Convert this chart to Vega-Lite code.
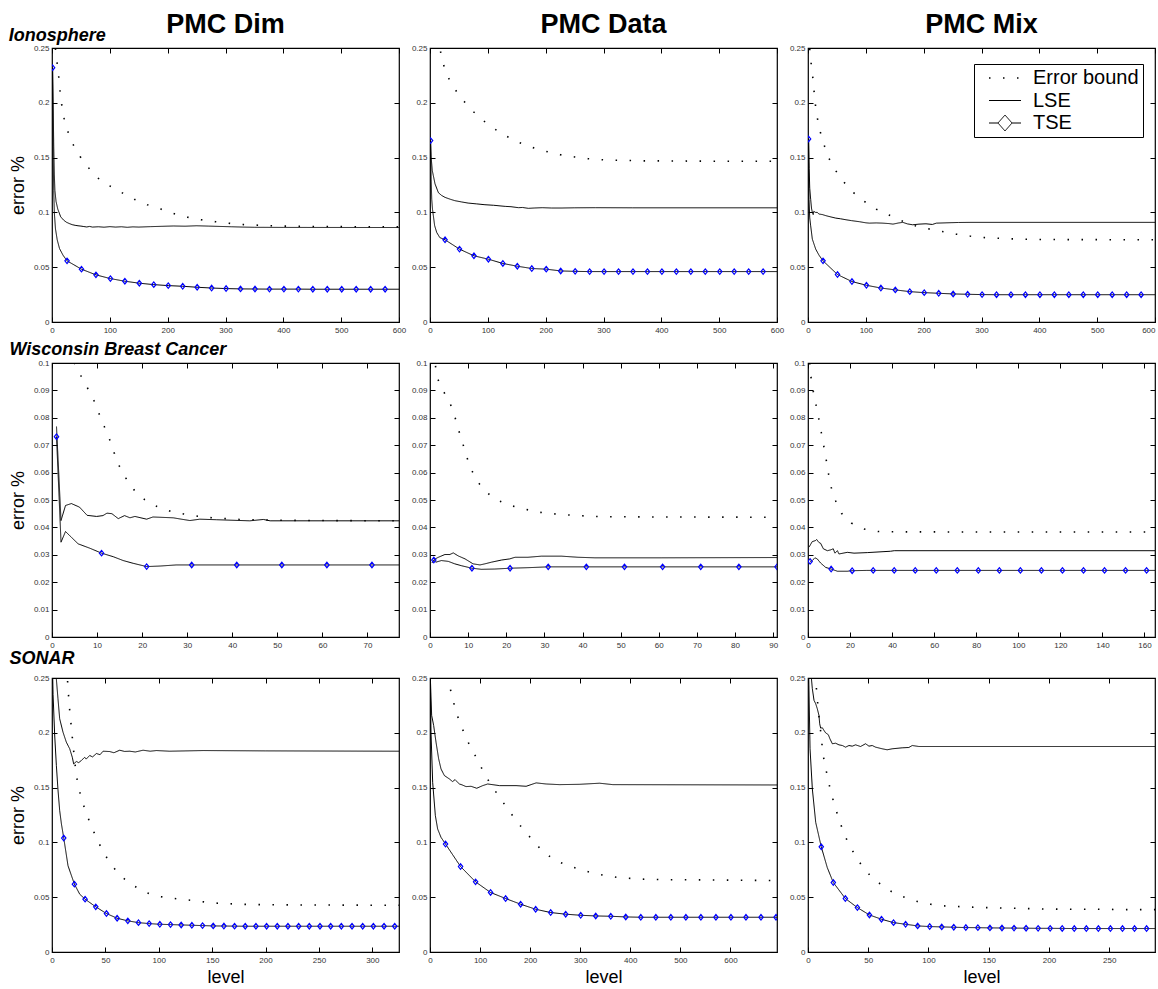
{
"$schema": "https://vega.github.io/schema/vega-lite/v6.json",
"background": "white",
"padding": {"left": 8, "top": 10, "right": 2, "bottom": 2},
"title": {"text": "Ionosphere", "anchor": "start", "frame": "bounds", "fontSize": 18, "fontStyle": "italic", "fontWeight": "bold", "offset": -35},
"columns": 3,
"spacing": {"row": 41, "column": 31},
"bounds": "flush",
"resolve": {"scale": {"strokeDash": "independent"}, "legend": {"strokeDash": "independent"}},
"datasets": {
"p11": [
{"s":"EB","x":1,"y":0.275},{"s":"EB","x":4,"y":0.258},{"s":"EB","x":8.7,"y":0.237},{"s":"EB","x":11.6,"y":0.224},{"s":"EB","x":13.9,"y":0.211},{"s":"EB","x":16.8,"y":0.198},{"s":"EB","x":20.8,"y":0.186},{"s":"EB","x":27.2,"y":0.174},{"s":"EB","x":36.4,"y":0.162},{"s":"EB","x":48.6,"y":0.151},{"s":"EB","x":63.6,"y":0.1405},{"s":"EB","x":80.3,"y":0.131},{"s":"EB","x":100.6,"y":0.124},{"s":"EB","x":120.8,"y":0.118},{"s":"EB","x":142.2,"y":0.112},{"s":"EB","x":164.7,"y":0.107},{"s":"EB","x":188.4,"y":0.103},{"s":"EB","x":211.6,"y":0.0988},{"s":"EB","x":234.1,"y":0.0957},{"s":"EB","x":257.8,"y":0.0933},{"s":"EB","x":282.7,"y":0.0915},{"s":"EB","x":304.6,"y":0.0902},{"s":"EB","x":327.2,"y":0.089},{"s":"EB","x":352.6,"y":0.0884},{"s":"EB","x":376.9,"y":0.0878},{"s":"EB","x":401.7,"y":0.0875},{"s":"EB","x":450,"y":0.0872},{"s":"EB","x":500,"y":0.087},{"s":"EB","x":600,"y":0.0868},
{"s":"LSE","x":1,"y":0.232},{"s":"LSE","x":2,"y":0.2},{"s":"LSE","x":3,"y":0.16},{"s":"LSE","x":4,"y":0.135},{"s":"LSE","x":5,"y":0.12},{"s":"LSE","x":7,"y":0.11},{"s":"LSE","x":10,"y":0.103},{"s":"LSE","x":15,"y":0.096},{"s":"LSE","x":20,"y":0.093},{"s":"LSE","x":25,"y":0.091},{"s":"LSE","x":30,"y":0.0898},{"s":"LSE","x":35,"y":0.0888},{"s":"LSE","x":40,"y":0.0882},{"s":"LSE","x":45,"y":0.0878},{"s":"LSE","x":50,"y":0.0875},{"s":"LSE","x":55,"y":0.0871},{"s":"LSE","x":60,"y":0.0867},{"s":"LSE","x":65,"y":0.0872},{"s":"LSE","x":70,"y":0.0866},{"s":"LSE","x":80,"y":0.0869},{"s":"LSE","x":90,"y":0.0865},{"s":"LSE","x":100,"y":0.087},{"s":"LSE","x":110,"y":0.0866},{"s":"LSE","x":120,"y":0.0869},{"s":"LSE","x":130,"y":0.0864},{"s":"LSE","x":140,"y":0.0868},{"s":"LSE","x":150,"y":0.0866},{"s":"LSE","x":170,"y":0.087},{"s":"LSE","x":190,"y":0.0873},{"s":"LSE","x":210,"y":0.0876},{"s":"LSE","x":230,"y":0.0874},{"s":"LSE","x":250,"y":0.0878},{"s":"LSE","x":270,"y":0.0875},{"s":"LSE","x":290,"y":0.0872},{"s":"LSE","x":310,"y":0.0869},{"s":"LSE","x":330,"y":0.0866},{"s":"LSE","x":350,"y":0.0864},{"s":"LSE","x":400,"y":0.0863},{"s":"LSE","x":600,"y":0.0862},
{"s":"TSE","x":1,"y":0.232,"d":1},{"s":"TSE","x":2,"y":0.15},{"s":"TSE","x":3,"y":0.12},{"s":"TSE","x":4,"y":0.1},{"s":"TSE","x":6,"y":0.085},{"s":"TSE","x":9,"y":0.075},{"s":"TSE","x":13,"y":0.067},{"s":"TSE","x":19,"y":0.061},{"s":"TSE","x":26,"y":0.0558,"d":1},{"s":"TSE","x":51,"y":0.0482,"d":1},{"s":"TSE","x":76,"y":0.043,"d":1},{"s":"TSE","x":101,"y":0.0396,"d":1},{"s":"TSE","x":126,"y":0.0372,"d":1},{"s":"TSE","x":151,"y":0.0354,"d":1},{"s":"TSE","x":176,"y":0.0341,"d":1},{"s":"TSE","x":201,"y":0.0332,"d":1},{"s":"TSE","x":226,"y":0.0326,"d":1},{"s":"TSE","x":251,"y":0.0317,"d":1},{"s":"TSE","x":276,"y":0.031,"d":1},{"s":"TSE","x":301,"y":0.0305,"d":1},{"s":"TSE","x":326,"y":0.0302,"d":1},{"s":"TSE","x":351,"y":0.0301,"d":1},{"s":"TSE","x":376,"y":0.03,"d":1},{"s":"TSE","x":401,"y":0.03,"d":1},{"s":"TSE","x":426,"y":0.03,"d":1},{"s":"TSE","x":451,"y":0.0299,"d":1},{"s":"TSE","x":476,"y":0.0299,"d":1},{"s":"TSE","x":501,"y":0.0299,"d":1},{"s":"TSE","x":526,"y":0.0299,"d":1},{"s":"TSE","x":551,"y":0.0299,"d":1},{"s":"TSE","x":576,"y":0.0299,"d":1},{"s":"TSE","x":600,"y":0.0299}
],
"p12": [
{"s":"EB","x":1,"y":0.31},{"s":"EB","x":8,"y":0.275},{"s":"EB","x":17.3,"y":0.249},{"s":"EB","x":22,"y":0.237},{"s":"EB","x":29.5,"y":0.225},{"s":"EB","x":41,"y":0.214},{"s":"EB","x":55,"y":0.2037},{"s":"EB","x":71,"y":0.1939},{"s":"EB","x":89,"y":0.185},{"s":"EB","x":108,"y":0.1774},{"s":"EB","x":128,"y":0.1707},{"s":"EB","x":150,"y":0.1646},{"s":"EB","x":172,"y":0.16},{"s":"EB","x":195,"y":0.1564},{"s":"EB","x":225,"y":0.1527},{"s":"EB","x":250,"y":0.1506},{"s":"EB","x":273,"y":0.149},{"s":"EB","x":298,"y":0.148},{"s":"EB","x":322,"y":0.1476},{"s":"EB","x":347,"y":0.1474},{"s":"EB","x":371,"y":0.147},{"s":"EB","x":395,"y":0.147},{"s":"EB","x":450,"y":0.1468},{"s":"EB","x":500,"y":0.1467},{"s":"EB","x":600,"y":0.1466},
{"s":"LSE","x":1,"y":0.1655},{"s":"LSE","x":2,"y":0.15},{"s":"LSE","x":4,"y":0.138},{"s":"LSE","x":5.8,"y":0.1335},{"s":"LSE","x":8.7,"y":0.126},{"s":"LSE","x":14.5,"y":0.118},{"s":"LSE","x":20,"y":0.1155},{"s":"LSE","x":26,"y":0.1137},{"s":"LSE","x":35,"y":0.112},{"s":"LSE","x":43,"y":0.1107},{"s":"LSE","x":55,"y":0.1095},{"s":"LSE","x":66,"y":0.1085},{"s":"LSE","x":80,"y":0.1078},{"s":"LSE","x":95,"y":0.107},{"s":"LSE","x":110,"y":0.1065},{"s":"LSE","x":130,"y":0.1055},{"s":"LSE","x":140,"y":0.1052},{"s":"LSE","x":153,"y":0.1043},{"s":"LSE","x":160,"y":0.1045},{"s":"LSE","x":170,"y":0.1037},{"s":"LSE","x":180,"y":0.104},{"s":"LSE","x":194,"y":0.1043},{"s":"LSE","x":210,"y":0.104},{"s":"LSE","x":228,"y":0.104},{"s":"LSE","x":250,"y":0.1042},{"s":"LSE","x":286,"y":0.1043},{"s":"LSE","x":350,"y":0.1042},{"s":"LSE","x":600,"y":0.1042},
{"s":"TSE","x":1,"y":0.1655,"d":1},{"s":"TSE","x":2,"y":0.13},{"s":"TSE","x":3,"y":0.112},{"s":"TSE","x":4.3,"y":0.103},{"s":"TSE","x":5.8,"y":0.097},{"s":"TSE","x":8,"y":0.088},{"s":"TSE","x":11.6,"y":0.0817},{"s":"TSE","x":17,"y":0.077},{"s":"TSE","x":26,"y":0.075,"d":1},{"s":"TSE","x":51,"y":0.0665,"d":1},{"s":"TSE","x":76,"y":0.0604,"d":1},{"s":"TSE","x":101,"y":0.0573,"d":1},{"s":"TSE","x":126,"y":0.0534,"d":1},{"s":"TSE","x":151,"y":0.0509,"d":1},{"s":"TSE","x":176,"y":0.0488,"d":1},{"s":"TSE","x":201,"y":0.0482,"d":1},{"s":"TSE","x":226,"y":0.0466,"d":1},{"s":"TSE","x":251,"y":0.0462,"d":1},{"s":"TSE","x":276,"y":0.046,"d":1},{"s":"TSE","x":301,"y":0.046,"d":1},{"s":"TSE","x":326,"y":0.046,"d":1},{"s":"TSE","x":351,"y":0.046,"d":1},{"s":"TSE","x":376,"y":0.046,"d":1},{"s":"TSE","x":401,"y":0.046,"d":1},{"s":"TSE","x":426,"y":0.046,"d":1},{"s":"TSE","x":451,"y":0.046,"d":1},{"s":"TSE","x":476,"y":0.046,"d":1},{"s":"TSE","x":501,"y":0.046,"d":1},{"s":"TSE","x":526,"y":0.046,"d":1},{"s":"TSE","x":551,"y":0.046,"d":1},{"s":"TSE","x":576,"y":0.046,"d":1},{"s":"TSE","x":600,"y":0.046}
],
"p13": [
{"s":"EB","x":1,"y":0.262},{"s":"EB","x":3,"y":0.249},{"s":"EB","x":5.2,"y":0.237},{"s":"EB","x":8.1,"y":0.224},{"s":"EB","x":10.4,"y":0.211},{"s":"EB","x":12.8,"y":0.198},{"s":"EB","x":16.2,"y":0.186},{"s":"EB","x":20.9,"y":0.174},{"s":"EB","x":27.8,"y":0.1616},{"s":"EB","x":36.5,"y":0.149},{"s":"EB","x":48,"y":0.138},{"s":"EB","x":62,"y":0.1277},{"s":"EB","x":78.8,"y":0.118},{"s":"EB","x":97.4,"y":0.11},{"s":"EB","x":118,"y":0.103},{"s":"EB","x":140,"y":0.0976},{"s":"EB","x":162,"y":0.0924},{"s":"EB","x":185.5,"y":0.0878},{"s":"EB","x":208,"y":0.085},{"s":"EB","x":232,"y":0.0826},{"s":"EB","x":256,"y":0.0802},{"s":"EB","x":280,"y":0.0784},{"s":"EB","x":303,"y":0.0771},{"s":"EB","x":325,"y":0.0765},{"s":"EB","x":348,"y":0.0759},{"s":"EB","x":372,"y":0.0756},{"s":"EB","x":396.5,"y":0.0753},{"s":"EB","x":450,"y":0.0752},{"s":"EB","x":600,"y":0.075},
{"s":"LSE","x":1,"y":0.167},{"s":"LSE","x":2,"y":0.14},{"s":"LSE","x":3,"y":0.122},{"s":"LSE","x":4.6,"y":0.112},{"s":"LSE","x":6,"y":0.104},{"s":"LSE","x":7.5,"y":0.1},{"s":"LSE","x":9,"y":0.098},{"s":"LSE","x":10,"y":0.101},{"s":"LSE","x":13,"y":0.1},{"s":"LSE","x":16,"y":0.1},{"s":"LSE","x":19,"y":0.0985},{"s":"LSE","x":25,"y":0.098},{"s":"LSE","x":31,"y":0.097},{"s":"LSE","x":40,"y":0.0958},{"s":"LSE","x":48,"y":0.0948},{"s":"LSE","x":56,"y":0.0942},{"s":"LSE","x":65.5,"y":0.0933},{"s":"LSE","x":75,"y":0.0925},{"s":"LSE","x":89,"y":0.0915},{"s":"LSE","x":100,"y":0.0905},{"s":"LSE","x":106,"y":0.0902},{"s":"LSE","x":118,"y":0.0904},{"s":"LSE","x":129,"y":0.0902},{"s":"LSE","x":140,"y":0.0898},{"s":"LSE","x":147,"y":0.0893},{"s":"LSE","x":156,"y":0.0903},{"s":"LSE","x":164,"y":0.0909},{"s":"LSE","x":172,"y":0.0895},{"s":"LSE","x":181,"y":0.0887},{"s":"LSE","x":192,"y":0.0893},{"s":"LSE","x":204,"y":0.0896},{"s":"LSE","x":215,"y":0.089},{"s":"LSE","x":222,"y":0.0902},{"s":"LSE","x":240,"y":0.0905},{"s":"LSE","x":260,"y":0.0908},{"s":"LSE","x":280,"y":0.0909},{"s":"LSE","x":600,"y":0.0909},
{"s":"TSE","x":1,"y":0.167,"d":1},{"s":"TSE","x":1.7,"y":0.112},{"s":"TSE","x":3,"y":0.095},{"s":"TSE","x":4.6,"y":0.0878},{"s":"TSE","x":7.5,"y":0.0756},{"s":"TSE","x":13.3,"y":0.0665},{"s":"TSE","x":19,"y":0.061},{"s":"TSE","x":26,"y":0.0558,"d":1},{"s":"TSE","x":51,"y":0.0433,"d":1},{"s":"TSE","x":76,"y":0.0369,"d":1},{"s":"TSE","x":101,"y":0.0335,"d":1},{"s":"TSE","x":126,"y":0.031,"d":1},{"s":"TSE","x":151,"y":0.0293,"d":1},{"s":"TSE","x":176,"y":0.0277,"d":1},{"s":"TSE","x":201,"y":0.0268,"d":1},{"s":"TSE","x":226,"y":0.0262,"d":1},{"s":"TSE","x":251,"y":0.0256,"d":1},{"s":"TSE","x":276,"y":0.0253,"d":1},{"s":"TSE","x":301,"y":0.025,"d":1},{"s":"TSE","x":326,"y":0.0249,"d":1},{"s":"TSE","x":351,"y":0.0249,"d":1},{"s":"TSE","x":376,"y":0.0249,"d":1},{"s":"TSE","x":401,"y":0.0249,"d":1},{"s":"TSE","x":426,"y":0.0249,"d":1},{"s":"TSE","x":451,"y":0.0249,"d":1},{"s":"TSE","x":476,"y":0.0249,"d":1},{"s":"TSE","x":501,"y":0.0249,"d":1},{"s":"TSE","x":526,"y":0.0249,"d":1},{"s":"TSE","x":551,"y":0.0249,"d":1},{"s":"TSE","x":576,"y":0.0249,"d":1},{"s":"TSE","x":600,"y":0.0249}
],
"p21": [
{"s":"EB","x":1,"y":0.13},{"s":"EB","x":3,"y":0.114},{"s":"EB","x":5,"y":0.1},{"s":"EB","x":6.4,"y":0.0954},{"s":"EB","x":7.9,"y":0.0908},{"s":"EB","x":9.3,"y":0.0863},{"s":"EB","x":10.4,"y":0.0817},{"s":"EB","x":11.6,"y":0.0768},{"s":"EB","x":12.8,"y":0.072},{"s":"EB","x":13.8,"y":0.0672},{"s":"EB","x":14.9,"y":0.0625},{"s":"EB","x":16.4,"y":0.058},{"s":"EB","x":18.2,"y":0.0537},{"s":"EB","x":20.5,"y":0.0502},{"s":"EB","x":23.2,"y":0.0477},{"s":"EB","x":26.1,"y":0.046},{"s":"EB","x":29.2,"y":0.0449},{"s":"EB","x":32.3,"y":0.0441},{"s":"EB","x":35.5,"y":0.0435},{"s":"EB","x":38.5,"y":0.0432},{"s":"EB","x":41.6,"y":0.0429},{"s":"EB","x":44.7,"y":0.0428},{"s":"EB","x":50,"y":0.0426},{"s":"EB","x":60,"y":0.0425},{"s":"EB","x":77,"y":0.0424},
{"s":"LSE","x":1,"y":0.0768},{"s":"LSE","x":2,"y":0.0425},{"s":"LSE","x":3,"y":0.048},{"s":"LSE","x":4.3,"y":0.0487},{"s":"LSE","x":6.1,"y":0.0474},{"s":"LSE","x":7.8,"y":0.0444},{"s":"LSE","x":9.9,"y":0.044},{"s":"LSE","x":11.3,"y":0.0443},{"s":"LSE","x":12.2,"y":0.0452},{"s":"LSE","x":13.3,"y":0.045},{"s":"LSE","x":14.7,"y":0.0432},{"s":"LSE","x":16.1,"y":0.0443},{"s":"LSE","x":17.3,"y":0.0435},{"s":"LSE","x":18.4,"y":0.044},{"s":"LSE","x":21,"y":0.043},{"s":"LSE","x":22.4,"y":0.0438},{"s":"LSE","x":26.9,"y":0.0435},{"s":"LSE","x":28.7,"y":0.043},{"s":"LSE","x":30.6,"y":0.0425},{"s":"LSE","x":32.8,"y":0.043},{"s":"LSE","x":36.5,"y":0.0428},{"s":"LSE","x":43.9,"y":0.0424},{"s":"LSE","x":46.9,"y":0.0429},{"s":"LSE","x":48.4,"y":0.0424},{"s":"LSE","x":77,"y":0.0424},
{"s":"TSE","x":1,"y":0.0731,"d":1},{"s":"TSE","x":2,"y":0.0346},{"s":"TSE","x":3,"y":0.0385},{"s":"TSE","x":4.3,"y":0.0364},{"s":"TSE","x":5.8,"y":0.034},{"s":"TSE","x":8.4,"y":0.0324},{"s":"TSE","x":11,"y":0.0306,"d":1},{"s":"TSE","x":13.6,"y":0.0293},{"s":"TSE","x":15.8,"y":0.0279},{"s":"TSE","x":18,"y":0.0269},{"s":"TSE","x":21,"y":0.0257,"d":1},{"s":"TSE","x":24,"y":0.0259},{"s":"TSE","x":27.6,"y":0.0263},{"s":"TSE","x":31,"y":0.0263,"d":1},{"s":"TSE","x":41,"y":0.0263,"d":1},{"s":"TSE","x":51,"y":0.0263,"d":1},{"s":"TSE","x":61,"y":0.0263,"d":1},{"s":"TSE","x":71,"y":0.0263,"d":1},{"s":"TSE","x":77,"y":0.0263}
],
"p22": [
{"s":"EB","x":1,"y":0.104},{"s":"EB","x":1.8,"y":0.0949},{"s":"EB","x":3.3,"y":0.0902},{"s":"EB","x":5.1,"y":0.0859},{"s":"EB","x":6.4,"y":0.081},{"s":"EB","x":7.4,"y":0.076},{"s":"EB","x":8.5,"y":0.0711},{"s":"EB","x":9.5,"y":0.0663},{"s":"EB","x":10.7,"y":0.0615},{"s":"EB","x":12.3,"y":0.057},{"s":"EB","x":14.7,"y":0.0529},{"s":"EB","x":17.7,"y":0.0499},{"s":"EB","x":21.1,"y":0.048},{"s":"EB","x":24.7,"y":0.0467},{"s":"EB","x":28.3,"y":0.0456},{"s":"EB","x":31.9,"y":0.045},{"s":"EB","x":35.5,"y":0.0446},{"s":"EB","x":39.2,"y":0.0443},{"s":"EB","x":42.8,"y":0.044},{"s":"EB","x":46.5,"y":0.0439},{"s":"EB","x":60,"y":0.0438},{"s":"EB","x":91,"y":0.0437},
{"s":"LSE","x":0.5,"y":0.027},{"s":"LSE","x":1.1,"y":0.0283},{"s":"LSE","x":2.2,"y":0.0291},{"s":"LSE","x":3.9,"y":0.0301},{"s":"LSE","x":5.2,"y":0.0301},{"s":"LSE","x":6.1,"y":0.0307},{"s":"LSE","x":7.4,"y":0.0296},{"s":"LSE","x":9.2,"y":0.0285},{"s":"LSE","x":11.3,"y":0.0267},{"s":"LSE","x":13.1,"y":0.0263},{"s":"LSE","x":14.4,"y":0.0267},{"s":"LSE","x":16.1,"y":0.0273},{"s":"LSE","x":18.8,"y":0.0281},{"s":"LSE","x":20.9,"y":0.0285},{"s":"LSE","x":22.3,"y":0.0291},{"s":"LSE","x":25.7,"y":0.0291},{"s":"LSE","x":29.2,"y":0.0295},{"s":"LSE","x":34.5,"y":0.0295},{"s":"LSE","x":38.8,"y":0.0291},{"s":"LSE","x":43.2,"y":0.0289},{"s":"LSE","x":60.6,"y":0.0289},{"s":"LSE","x":91,"y":0.029},
{"s":"TSE","x":1,"y":0.0281,"d":1},{"s":"TSE","x":1.5,"y":0.0273},{"s":"TSE","x":3,"y":0.0279},{"s":"TSE","x":4.8,"y":0.0276},{"s":"TSE","x":6.5,"y":0.0267},{"s":"TSE","x":8.3,"y":0.026},{"s":"TSE","x":11,"y":0.0251,"d":1},{"s":"TSE","x":13.5,"y":0.0247},{"s":"TSE","x":17,"y":0.0248},{"s":"TSE","x":21,"y":0.0251,"d":1},{"s":"TSE","x":25.7,"y":0.0253},{"s":"TSE","x":31,"y":0.0256,"d":1},{"s":"TSE","x":41,"y":0.0256,"d":1},{"s":"TSE","x":51,"y":0.0256,"d":1},{"s":"TSE","x":61,"y":0.0256,"d":1},{"s":"TSE","x":71,"y":0.0256,"d":1},{"s":"TSE","x":81,"y":0.0256,"d":1},{"s":"TSE","x":91,"y":0.0256,"d":1}
],
"p23": [
{"s":"EB","x":0.8,"y":0.1},{"s":"EB","x":1.4,"y":0.0949},{"s":"EB","x":2.5,"y":0.0897},{"s":"EB","x":3.8,"y":0.0847},{"s":"EB","x":5.1,"y":0.0797},{"s":"EB","x":6.3,"y":0.0747},{"s":"EB","x":7.5,"y":0.0697},{"s":"EB","x":8.7,"y":0.0645},{"s":"EB","x":9.8,"y":0.0594},{"s":"EB","x":11.1,"y":0.0545},{"s":"EB","x":13.2,"y":0.0496},{"s":"EB","x":16,"y":0.0451},{"s":"EB","x":20.6,"y":0.0416},{"s":"EB","x":26.6,"y":0.0394},{"s":"EB","x":33.3,"y":0.0385},{"s":"EB","x":40,"y":0.0384},{"s":"EB","x":80,"y":0.0383},{"s":"EB","x":165,"y":0.0383},
{"s":"LSE","x":0.5,"y":0.0328},{"s":"LSE","x":2,"y":0.0348},{"s":"LSE","x":3.6,"y":0.0352},{"s":"LSE","x":4.1,"y":0.0356},{"s":"LSE","x":5.2,"y":0.0345},{"s":"LSE","x":6,"y":0.0342},{"s":"LSE","x":7.3,"y":0.0322},{"s":"LSE","x":9.2,"y":0.0315},{"s":"LSE","x":10.8,"y":0.0318},{"s":"LSE","x":12,"y":0.0322},{"s":"LSE","x":12.8,"y":0.0306},{"s":"LSE","x":14,"y":0.0315},{"s":"LSE","x":14.7,"y":0.0303},{"s":"LSE","x":18.7,"y":0.0309},{"s":"LSE","x":21.9,"y":0.0306},{"s":"LSE","x":28.2,"y":0.0308},{"s":"LSE","x":39.3,"y":0.0313},{"s":"LSE","x":41,"y":0.0315},{"s":"LSE","x":165,"y":0.0315},
{"s":"TSE","x":1,"y":0.0276,"d":1},{"s":"TSE","x":2,"y":0.0279},{"s":"TSE","x":3.3,"y":0.0289},{"s":"TSE","x":4.4,"y":0.0285},{"s":"TSE","x":6,"y":0.027},{"s":"TSE","x":8.4,"y":0.0254},{"s":"TSE","x":11,"y":0.0248,"d":1},{"s":"TSE","x":14,"y":0.024},{"s":"TSE","x":18.7,"y":0.024},{"s":"TSE","x":21,"y":0.0242,"d":1},{"s":"TSE","x":28,"y":0.0243},{"s":"TSE","x":31,"y":0.0243,"d":1},{"s":"TSE","x":41,"y":0.0243,"d":1},{"s":"TSE","x":51,"y":0.0243,"d":1},{"s":"TSE","x":61,"y":0.0243,"d":1},{"s":"TSE","x":71,"y":0.0243,"d":1},{"s":"TSE","x":81,"y":0.0243,"d":1},{"s":"TSE","x":91,"y":0.0243,"d":1},{"s":"TSE","x":101,"y":0.0243,"d":1},{"s":"TSE","x":111,"y":0.0243,"d":1},{"s":"TSE","x":121,"y":0.0243,"d":1},{"s":"TSE","x":131,"y":0.0243,"d":1},{"s":"TSE","x":141,"y":0.0243,"d":1},{"s":"TSE","x":151,"y":0.0243,"d":1},{"s":"TSE","x":161,"y":0.0243,"d":1},{"s":"TSE","x":165,"y":0.0243}
],
"p31": [
{"s":"EB","x":1,"y":0.4},{"s":"EB","x":8,"y":0.33},{"s":"EB","x":14.4,"y":0.25},{"s":"EB","x":15.3,"y":0.2366},{"s":"EB","x":16.3,"y":0.2235},{"s":"EB","x":17.5,"y":0.2113},{"s":"EB","x":18.8,"y":0.198},{"s":"EB","x":20,"y":0.186},{"s":"EB","x":21.3,"y":0.174},{"s":"EB","x":22.8,"y":0.161},{"s":"EB","x":24.7,"y":0.1512},{"s":"EB","x":27.8,"y":0.1387},{"s":"EB","x":32.2,"y":0.1265},{"s":"EB","x":36.9,"y":0.1146},{"s":"EB","x":42.2,"y":0.103},{"s":"EB","x":47.8,"y":0.0915},{"s":"EB","x":54.7,"y":0.0808},{"s":"EB","x":63.4,"y":0.0701},{"s":"EB","x":73.4,"y":0.0625},{"s":"EB","x":84.4,"y":0.0558},{"s":"EB","x":96.9,"y":0.0512},{"s":"EB","x":109.4,"y":0.0494},{"s":"EB","x":122.8,"y":0.0479},{"s":"EB","x":135.9,"y":0.0466},{"s":"EB","x":149,"y":0.0448},{"s":"EB","x":162,"y":0.0442},{"s":"EB","x":175,"y":0.0436},{"s":"EB","x":188,"y":0.0433},{"s":"EB","x":214,"y":0.043},{"s":"EB","x":250,"y":0.0429},{"s":"EB","x":300,"y":0.0427},{"s":"EB","x":325,"y":0.0427},
{"s":"LSE","x":1,"y":0.35},{"s":"LSE","x":4,"y":0.25},{"s":"LSE","x":5.6,"y":0.231},{"s":"LSE","x":7.2,"y":0.2128},{"s":"LSE","x":10.3,"y":0.2006},{"s":"LSE","x":13.4,"y":0.1915},{"s":"LSE","x":16.6,"y":0.1854},{"s":"LSE","x":19,"y":0.1777},{"s":"LSE","x":20.3,"y":0.1716},{"s":"LSE","x":22.8,"y":0.1738},{"s":"LSE","x":25,"y":0.1728},{"s":"LSE","x":27.5,"y":0.1747},{"s":"LSE","x":30.6,"y":0.1777},{"s":"LSE","x":32,"y":0.176},{"s":"LSE","x":35.3,"y":0.1793},{"s":"LSE","x":38,"y":0.178},{"s":"LSE","x":41.6,"y":0.1811},{"s":"LSE","x":45,"y":0.18},{"s":"LSE","x":47.8,"y":0.1832},{"s":"LSE","x":54,"y":0.1829},{"s":"LSE","x":58,"y":0.1818},{"s":"LSE","x":63.4,"y":0.1841},{"s":"LSE","x":68,"y":0.183},{"s":"LSE","x":72.8,"y":0.1832},{"s":"LSE","x":78,"y":0.1825},{"s":"LSE","x":85.3,"y":0.1841},{"s":"LSE","x":92,"y":0.1832},{"s":"LSE","x":97.8,"y":0.1838},{"s":"LSE","x":110,"y":0.1832},{"s":"LSE","x":141.6,"y":0.1838},{"s":"LSE","x":200,"y":0.1835},{"s":"LSE","x":325,"y":0.1832},
{"s":"TSE","x":0.5,"y":0.26},{"s":"TSE","x":1,"y":0.235},{"s":"TSE","x":2.5,"y":0.198},{"s":"TSE","x":4.1,"y":0.17},{"s":"TSE","x":5.6,"y":0.148},{"s":"TSE","x":7.2,"y":0.129},{"s":"TSE","x":8.8,"y":0.117},{"s":"TSE","x":11,"y":0.104,"d":1},{"s":"TSE","x":15,"y":0.0787},{"s":"TSE","x":21,"y":0.0619,"d":1},{"s":"TSE","x":26,"y":0.0527},{"s":"TSE","x":31,"y":0.0482,"d":1},{"s":"TSE","x":41,"y":0.0412,"d":1},{"s":"TSE","x":51,"y":0.0351,"d":1},{"s":"TSE","x":61,"y":0.0308,"d":1},{"s":"TSE","x":71,"y":0.0284,"d":1},{"s":"TSE","x":81,"y":0.0268,"d":1},{"s":"TSE","x":91,"y":0.0259,"d":1},{"s":"TSE","x":101,"y":0.0253,"d":1},{"s":"TSE","x":111,"y":0.025,"d":1},{"s":"TSE","x":121,"y":0.0247,"d":1},{"s":"TSE","x":131,"y":0.0244,"d":1},{"s":"TSE","x":141,"y":0.0241,"d":1},{"s":"TSE","x":151,"y":0.0238,"d":1},{"s":"TSE","x":161,"y":0.0237,"d":1},{"s":"TSE","x":171,"y":0.0236,"d":1},{"s":"TSE","x":181,"y":0.0235,"d":1},{"s":"TSE","x":191,"y":0.0235,"d":1},{"s":"TSE","x":201,"y":0.0235,"d":1},{"s":"TSE","x":211,"y":0.0235,"d":1},{"s":"TSE","x":221,"y":0.0235,"d":1},{"s":"TSE","x":231,"y":0.0235,"d":1},{"s":"TSE","x":241,"y":0.0235,"d":1},{"s":"TSE","x":251,"y":0.0235,"d":1},{"s":"TSE","x":261,"y":0.0235,"d":1},{"s":"TSE","x":271,"y":0.0235,"d":1},{"s":"TSE","x":281,"y":0.0235,"d":1},{"s":"TSE","x":291,"y":0.0235,"d":1},{"s":"TSE","x":301,"y":0.0235,"d":1},{"s":"TSE","x":311,"y":0.0235,"d":1},{"s":"TSE","x":321,"y":0.0235,"d":1},{"s":"TSE","x":325,"y":0.0235}
],
"p32": [
{"s":"EB","x":1,"y":0.34},{"s":"EB","x":20,"y":0.29},{"s":"EB","x":37,"y":0.249},{"s":"EB","x":42,"y":0.237},{"s":"EB","x":48.7,"y":0.225},{"s":"EB","x":57.3,"y":0.212},{"s":"EB","x":67.3,"y":0.2006},{"s":"EB","x":78.7,"y":0.189},{"s":"EB","x":92,"y":0.1777},{"s":"EB","x":107.3,"y":0.164},{"s":"EB","x":121,"y":0.153},{"s":"EB","x":136.7,"y":0.1427},{"s":"EB","x":153.3,"y":0.1317},{"s":"EB","x":170,"y":0.1213},{"s":"EB","x":186.7,"y":0.1116},{"s":"EB","x":205.3,"y":0.1018},{"s":"EB","x":224,"y":0.0924},{"s":"EB","x":246,"y":0.0848},{"s":"EB","x":272,"y":0.0793},{"s":"EB","x":298.7,"y":0.0756},{"s":"EB","x":325.3,"y":0.072},{"s":"EB","x":352,"y":0.0695},{"s":"EB","x":380,"y":0.0677},{"s":"EB","x":394,"y":0.0674},{"s":"EB","x":422.7,"y":0.0665},{"s":"EB","x":450.7,"y":0.0662},{"s":"EB","x":478.7,"y":0.0659},{"s":"EB","x":550,"y":0.0658},{"s":"EB","x":620,"y":0.0655},{"s":"EB","x":693,"y":0.0652},
{"s":"LSE","x":0.3,"y":0.28},{"s":"LSE","x":0.7,"y":0.25},{"s":"LSE","x":3.3,"y":0.2159},{"s":"LSE","x":7.3,"y":0.2067},{"s":"LSE","x":12,"y":0.1915},{"s":"LSE","x":17.3,"y":0.1762},{"s":"LSE","x":22,"y":0.167},{"s":"LSE","x":28.7,"y":0.161},{"s":"LSE","x":38.7,"y":0.1579},{"s":"LSE","x":45,"y":0.1555},{"s":"LSE","x":50,"y":0.1572},{"s":"LSE","x":58.7,"y":0.1533},{"s":"LSE","x":64,"y":0.1525},{"s":"LSE","x":72,"y":0.1509},{"s":"LSE","x":82,"y":0.1512},{"s":"LSE","x":93.3,"y":0.1494},{"s":"LSE","x":105.3,"y":0.1518},{"s":"LSE","x":115.3,"y":0.1533},{"s":"LSE","x":138.7,"y":0.1518},{"s":"LSE","x":172,"y":0.1518},{"s":"LSE","x":192,"y":0.1512},{"s":"LSE","x":212,"y":0.1543},{"s":"LSE","x":232,"y":0.1533},{"s":"LSE","x":258.7,"y":0.1527},{"s":"LSE","x":298.7,"y":0.153},{"s":"LSE","x":338.7,"y":0.154},{"s":"LSE","x":365.3,"y":0.1527},{"s":"LSE","x":693,"y":0.1524},
{"s":"TSE","x":0.2,"y":0.26},{"s":"TSE","x":2,"y":0.2006},{"s":"TSE","x":5.3,"y":0.1549},{"s":"TSE","x":10.7,"y":0.1244},{"s":"TSE","x":15.3,"y":0.1122},{"s":"TSE","x":22,"y":0.1046},{"s":"TSE","x":31,"y":0.0985,"d":1},{"s":"TSE","x":61,"y":0.078,"d":1},{"s":"TSE","x":91,"y":0.064,"d":1},{"s":"TSE","x":121,"y":0.0543,"d":1},{"s":"TSE","x":151,"y":0.0488,"d":1},{"s":"TSE","x":181,"y":0.0436,"d":1},{"s":"TSE","x":211,"y":0.039,"d":1},{"s":"TSE","x":241,"y":0.036,"d":1},{"s":"TSE","x":271,"y":0.0345,"d":1},{"s":"TSE","x":301,"y":0.0335,"d":1},{"s":"TSE","x":331,"y":0.0329,"d":1},{"s":"TSE","x":361,"y":0.0326,"d":1},{"s":"TSE","x":391,"y":0.032,"d":1},{"s":"TSE","x":421,"y":0.0317,"d":1},{"s":"TSE","x":451,"y":0.0317,"d":1},{"s":"TSE","x":481,"y":0.0317,"d":1},{"s":"TSE","x":511,"y":0.0317,"d":1},{"s":"TSE","x":541,"y":0.0317,"d":1},{"s":"TSE","x":571,"y":0.0317,"d":1},{"s":"TSE","x":601,"y":0.0317,"d":1},{"s":"TSE","x":631,"y":0.0317,"d":1},{"s":"TSE","x":661,"y":0.0317,"d":1},{"s":"TSE","x":691,"y":0.0317,"d":1},{"s":"TSE","x":693,"y":0.0317}
],
"p33": [
{"s":"EB","x":1,"y":0.33},{"s":"EB","x":6.4,"y":0.249},{"s":"EB","x":7.2,"y":0.2372},{"s":"EB","x":8.3,"y":0.224},{"s":"EB","x":9.4,"y":0.2113},{"s":"EB","x":10.8,"y":0.1988},{"s":"EB","x":11.9,"y":0.186},{"s":"EB","x":13.5,"y":0.1732},{"s":"EB","x":16,"y":0.161},{"s":"EB","x":18.5,"y":0.1482},{"s":"EB","x":21.5,"y":0.136},{"s":"EB","x":24.9,"y":0.1238},{"s":"EB","x":28.7,"y":0.1116},{"s":"EB","x":33.1,"y":0.1},{"s":"EB","x":39,"y":0.0884},{"s":"EB","x":45.3,"y":0.0777},{"s":"EB","x":53,"y":0.068},{"s":"EB","x":61.9,"y":0.0604},{"s":"EB","x":71.3,"y":0.0537},{"s":"EB","x":80.9,"y":0.0497},{"s":"EB","x":90.9,"y":0.046},{"s":"EB","x":101.7,"y":0.0436},{"s":"EB","x":112.7,"y":0.0421},{"s":"EB","x":124.3,"y":0.0415},{"s":"EB","x":136.2,"y":0.0409},{"s":"EB","x":147.8,"y":0.0405},{"s":"EB","x":159.1,"y":0.0402},{"s":"EB","x":171,"y":0.0399},{"s":"EB","x":182.6,"y":0.0396},{"s":"EB","x":194.2,"y":0.0393},{"s":"EB","x":217.4,"y":0.039},{"s":"EB","x":240.6,"y":0.039},{"s":"EB","x":263.8,"y":0.0387},{"s":"EB","x":288,"y":0.0387},
{"s":"LSE","x":1,"y":0.3},{"s":"LSE","x":2.8,"y":0.25},{"s":"LSE","x":3.6,"y":0.2402},{"s":"LSE","x":5,"y":0.2296},{"s":"LSE","x":6.4,"y":0.2265},{"s":"LSE","x":7.7,"y":0.222},{"s":"LSE","x":9.1,"y":0.2159},{"s":"LSE","x":9.7,"y":0.2082},{"s":"LSE","x":10.5,"y":0.2043},{"s":"LSE","x":11.9,"y":0.2046},{"s":"LSE","x":13.3,"y":0.2021},{"s":"LSE","x":14.6,"y":0.2},{"s":"LSE","x":16.9,"y":0.1982},{"s":"LSE","x":18.2,"y":0.1945},{"s":"LSE","x":20.2,"y":0.19},{"s":"LSE","x":22.9,"y":0.1905},{"s":"LSE","x":25.7,"y":0.189},{"s":"LSE","x":28.5,"y":0.1884},{"s":"LSE","x":31.2,"y":0.1869},{"s":"LSE","x":34,"y":0.1884},{"s":"LSE","x":36.7,"y":0.1878},{"s":"LSE","x":39.5,"y":0.189},{"s":"LSE","x":43.6,"y":0.1875},{"s":"LSE","x":47.8,"y":0.19},{"s":"LSE","x":50.6,"y":0.1878},{"s":"LSE","x":53.3,"y":0.1884},{"s":"LSE","x":56.1,"y":0.1869},{"s":"LSE","x":61.6,"y":0.1854},{"s":"LSE","x":65.7,"y":0.1845},{"s":"LSE","x":69.9,"y":0.1854},{"s":"LSE","x":78.2,"y":0.1863},{"s":"LSE","x":83.7,"y":0.1866},{"s":"LSE","x":86.5,"y":0.1884},{"s":"LSE","x":92,"y":0.1875},{"s":"LSE","x":105.8,"y":0.1875},{"s":"LSE","x":288,"y":0.1875},
{"s":"TSE","x":0.3,"y":0.27},{"s":"TSE","x":1.7,"y":0.1854},{"s":"TSE","x":3.6,"y":0.1488},{"s":"TSE","x":6.4,"y":0.1183},{"s":"TSE","x":11,"y":0.096,"d":1},{"s":"TSE","x":16,"y":0.077},{"s":"TSE","x":21,"y":0.0634,"d":1},{"s":"TSE","x":31,"y":0.0488,"d":1},{"s":"TSE","x":41,"y":0.0405,"d":1},{"s":"TSE","x":51,"y":0.0338,"d":1},{"s":"TSE","x":61,"y":0.0299,"d":1},{"s":"TSE","x":71,"y":0.0268,"d":1},{"s":"TSE","x":81,"y":0.0253,"d":1},{"s":"TSE","x":91,"y":0.0238,"d":1},{"s":"TSE","x":101,"y":0.0232,"d":1},{"s":"TSE","x":111,"y":0.0229,"d":1},{"s":"TSE","x":121,"y":0.0226,"d":1},{"s":"TSE","x":131,"y":0.0223,"d":1},{"s":"TSE","x":141,"y":0.0222,"d":1},{"s":"TSE","x":151,"y":0.022,"d":1},{"s":"TSE","x":161,"y":0.0219,"d":1},{"s":"TSE","x":171,"y":0.0218,"d":1},{"s":"TSE","x":181,"y":0.0217,"d":1},{"s":"TSE","x":191,"y":0.0216,"d":1},{"s":"TSE","x":201,"y":0.0216,"d":1},{"s":"TSE","x":211,"y":0.0215,"d":1},{"s":"TSE","x":221,"y":0.0214,"d":1},{"s":"TSE","x":231,"y":0.0214,"d":1},{"s":"TSE","x":241,"y":0.0214,"d":1},{"s":"TSE","x":251,"y":0.0214,"d":1},{"s":"TSE","x":261,"y":0.0214,"d":1},{"s":"TSE","x":271,"y":0.0214,"d":1},{"s":"TSE","x":281,"y":0.0214,"d":1},{"s":"TSE","x":288,"y":0.0214}
]
},
"concat": [
{"width": 347, "height": 274, "data": {"name": "p11"},
 "title": {"text": "PMC Dim", "fontSize": 27, "fontWeight": "bold", "anchor": "middle", "frame": "group", "offset": 5},
 "resolve": {"axis": {"x": "independent", "y": "independent"}},
 "layer": [
  {"mark": {"type": "line", "clip": true, "color": "black", "strokeCap": "butt"},
   "encoding": {
    "x": {"field": "x", "type": "quantitative", "scale": {"domain": [0, 600], "nice": false, "zero": false}, "axis": {"values": [0,100,200,300,400,500,600], "title": null}},
    "y": {"field": "y", "type": "quantitative", "scale": {"domain": [0, 0.25], "nice": false, "zero": false}, "axis": {"values": [0,0.05,0.1,0.15,0.2,0.25], "format": "~g", "title": "error %"}},
    "strokeDash": {"field": "s", "type": "nominal", "scale": {"domain": ["EB","LSE","TSE"], "range": [[1.5,12.5],[1,0],[1,0]]}, "legend": null},
    "strokeWidth": {"condition": {"test": "datum.s == 'EB'", "value": 1.6}, "value": 1}}},
  {"transform": [{"filter": "datum.d == 1"}],
   "mark": {"type": "point", "shape": "M-0.8,0L0,-1L0.8,0L0,1Z", "size": 30, "filled": false, "stroke": "#0000ff", "strokeWidth": 1.2, "opacity": 1, "clip": true},
   "encoding": {
    "x": {"field": "x", "type": "quantitative", "axis": {"orient": "top", "values": [0,100,200,300,400,500,600], "labels": false, "title": null}},
    "y": {"field": "y", "type": "quantitative", "axis": {"orient": "right", "values": [0,0.05,0.1,0.15,0.2,0.25], "labels": false, "title": null}}}}
 ]},
{"width": 347, "height": 274, "data": {"name": "p12"},
 "title": {"text": "PMC Data", "fontSize": 27, "fontWeight": "bold", "anchor": "middle", "frame": "group", "offset": 5},
 "resolve": {"axis": {"x": "independent", "y": "independent"}},
 "layer": [
  {"mark": {"type": "line", "clip": true, "color": "black", "strokeCap": "butt"},
   "encoding": {
    "x": {"field": "x", "type": "quantitative", "scale": {"domain": [0, 600], "nice": false, "zero": false}, "axis": {"values": [0,100,200,300,400,500,600], "title": null}},
    "y": {"field": "y", "type": "quantitative", "scale": {"domain": [0, 0.25], "nice": false, "zero": false}, "axis": {"values": [0,0.05,0.1,0.15,0.2,0.25], "format": "~g", "title": null}},
    "strokeDash": {"field": "s", "type": "nominal", "scale": {"domain": ["EB","LSE","TSE"], "range": [[1.5,12.5],[1,0],[1,0]]}, "legend": null},
    "strokeWidth": {"condition": {"test": "datum.s == 'EB'", "value": 1.6}, "value": 1}}},
  {"transform": [{"filter": "datum.d == 1"}],
   "mark": {"type": "point", "shape": "M-0.8,0L0,-1L0.8,0L0,1Z", "size": 30, "filled": false, "stroke": "#0000ff", "strokeWidth": 1.2, "opacity": 1, "clip": true},
   "encoding": {
    "x": {"field": "x", "type": "quantitative", "axis": {"orient": "top", "values": [0,100,200,300,400,500,600], "labels": false, "title": null}},
    "y": {"field": "y", "type": "quantitative", "axis": {"orient": "right", "values": [0,0.05,0.1,0.15,0.2,0.25], "labels": false, "title": null}}}}
 ]},
{"width": 347, "height": 274, "data": {"name": "p13"},
 "title": {"text": "PMC Mix", "fontSize": 27, "fontWeight": "bold", "anchor": "middle", "frame": "group", "offset": 5},
 "resolve": {"axis": {"x": "independent", "y": "independent"}},
 "layer": [
  {"mark": {"type": "line", "clip": true, "color": "black", "strokeCap": "butt"},
   "encoding": {
    "x": {"field": "x", "type": "quantitative", "scale": {"domain": [0, 600], "nice": false, "zero": false}, "axis": {"values": [0,100,200,300,400,500,600], "title": null, "labelAlign": {"condition": {"test": "datum.value == 600", "value": "right"}, "value": "center"}}},
    "y": {"field": "y", "type": "quantitative", "scale": {"domain": [0, 0.25], "nice": false, "zero": false}, "axis": {"values": [0,0.05,0.1,0.15,0.2,0.25], "format": "~g", "title": null}},
    "strokeDash": {"field": "s", "type": "nominal", "scale": {"domain": ["EB","LSE","TSE"], "range": [[1.5,12.5],[1,0],[1,0]]},
      "legend": {"orient": "none", "legendX": 166, "legendY": 16, "title": null, "padding": 4, "strokeColor": "black", "fillColor": "white", "labelFontSize": 20, "labelFont": "Liberation Sans", "labelColor": "black", "labelOffset": 35, "symbolSize": 256, "rowPadding": 2.5, "labelExpr": "datum.value == 'EB' ? 'Error bound' : datum.value",
        "symbolType": {"expr": "datum.value == 'TSE' ? 'M0.125,0L1.25,0M3,0L4.125,0M1.25,0L2.125,-1L3,0L2.125,1Z' : 'M0.125,0L4.125,0'"},
        "symbolDash": {"expr": "datum.value == 'EB' ? [1.5,5.5] : [1,0]"},
        "symbolStrokeWidth": {"expr": "datum.value == 'EB' ? 1.5 : 1"},
        "symbolStrokeColor": "black",
        "symbolFillColor": "transparent",
        "symbolOpacity": 1}},
    "strokeWidth": {"condition": {"test": "datum.s == 'EB'", "value": 1.6}, "value": 1}}},
  {"transform": [{"filter": "datum.d == 1"}],
   "mark": {"type": "point", "shape": "M-0.8,0L0,-1L0.8,0L0,1Z", "size": 30, "filled": false, "stroke": "#0000ff", "strokeWidth": 1.2, "opacity": 1, "clip": true},
   "encoding": {
    "x": {"field": "x", "type": "quantitative", "axis": {"orient": "top", "values": [0,100,200,300,400,500,600], "labels": false, "title": null}},
    "y": {"field": "y", "type": "quantitative", "axis": {"orient": "right", "values": [0,0.05,0.1,0.15,0.2,0.25], "labels": false, "title": null}}}}
 ]},
{"width": 347, "height": 274, "data": {"name": "p21"},
 "title": {"text": "Wisconsin Breast Cancer", "fontSize": 18, "fontWeight": "bold", "fontStyle": "italic", "anchor": "start", "frame": "bounds", "offset": 0},
 "resolve": {"axis": {"x": "independent", "y": "independent"}},
 "layer": [
  {"mark": {"type": "line", "clip": true, "color": "black", "strokeCap": "butt"},
   "encoding": {
    "x": {"field": "x", "type": "quantitative", "scale": {"domain": [0, 77], "nice": false, "zero": false}, "axis": {"values": [0,10,20,30,40,50,60,70], "title": null}},
    "y": {"field": "y", "type": "quantitative", "scale": {"domain": [0, 0.1], "nice": false, "zero": false}, "axis": {"values": [0,0.01,0.02,0.03,0.04,0.05,0.06,0.07,0.08,0.09,0.1], "format": "~g", "title": "error %"}},
    "strokeDash": {"field": "s", "type": "nominal", "scale": {"domain": ["EB","LSE","TSE"], "range": [[1.5,12.5],[1,0],[1,0]]}, "legend": null},
    "strokeWidth": {"condition": {"test": "datum.s == 'EB'", "value": 1.6}, "value": 1}}},
  {"transform": [{"filter": "datum.d == 1"}],
   "mark": {"type": "point", "shape": "M-0.8,0L0,-1L0.8,0L0,1Z", "size": 30, "filled": false, "stroke": "#0000ff", "strokeWidth": 1.2, "opacity": 1, "clip": true},
   "encoding": {
    "x": {"field": "x", "type": "quantitative", "axis": {"orient": "top", "values": [0,10,20,30,40,50,60,70], "labels": false, "title": null}},
    "y": {"field": "y", "type": "quantitative", "axis": {"orient": "right", "values": [0,0.01,0.02,0.03,0.04,0.05,0.06,0.07,0.08,0.09,0.1], "labels": false, "title": null}}}}
 ]},
{"width": 347, "height": 274, "data": {"name": "p22"},
 "resolve": {"axis": {"x": "independent", "y": "independent"}},
 "layer": [
  {"mark": {"type": "line", "clip": true, "color": "black", "strokeCap": "butt"},
   "encoding": {
    "x": {"field": "x", "type": "quantitative", "scale": {"domain": [0, 91], "nice": false, "zero": false}, "axis": {"values": [0,10,20,30,40,50,60,70,80,90], "title": null}},
    "y": {"field": "y", "type": "quantitative", "scale": {"domain": [0, 0.1], "nice": false, "zero": false}, "axis": {"values": [0,0.01,0.02,0.03,0.04,0.05,0.06,0.07,0.08,0.09,0.1], "format": "~g", "title": null}},
    "strokeDash": {"field": "s", "type": "nominal", "scale": {"domain": ["EB","LSE","TSE"], "range": [[1.5,12.5],[1,0],[1,0]]}, "legend": null},
    "strokeWidth": {"condition": {"test": "datum.s == 'EB'", "value": 1.6}, "value": 1}}},
  {"transform": [{"filter": "datum.d == 1"}],
   "mark": {"type": "point", "shape": "M-0.8,0L0,-1L0.8,0L0,1Z", "size": 30, "filled": false, "stroke": "#0000ff", "strokeWidth": 1.2, "opacity": 1, "clip": true},
   "encoding": {
    "x": {"field": "x", "type": "quantitative", "axis": {"orient": "top", "values": [0,10,20,30,40,50,60,70,80,90], "labels": false, "title": null}},
    "y": {"field": "y", "type": "quantitative", "axis": {"orient": "right", "values": [0,0.01,0.02,0.03,0.04,0.05,0.06,0.07,0.08,0.09,0.1], "labels": false, "title": null}}}}
 ]},
{"width": 347, "height": 274, "data": {"name": "p23"},
 "resolve": {"axis": {"x": "independent", "y": "independent"}},
 "layer": [
  {"mark": {"type": "line", "clip": true, "color": "black", "strokeCap": "butt"},
   "encoding": {
    "x": {"field": "x", "type": "quantitative", "scale": {"domain": [0, 165], "nice": false, "zero": false}, "axis": {"values": [0,20,40,60,80,100,120,140,160], "title": null}},
    "y": {"field": "y", "type": "quantitative", "scale": {"domain": [0, 0.1], "nice": false, "zero": false}, "axis": {"values": [0,0.01,0.02,0.03,0.04,0.05,0.06,0.07,0.08,0.09,0.1], "format": "~g", "title": null}},
    "strokeDash": {"field": "s", "type": "nominal", "scale": {"domain": ["EB","LSE","TSE"], "range": [[1.5,12.5],[1,0],[1,0]]}, "legend": null},
    "strokeWidth": {"condition": {"test": "datum.s == 'EB'", "value": 1.6}, "value": 1}}},
  {"transform": [{"filter": "datum.d == 1"}],
   "mark": {"type": "point", "shape": "M-0.8,0L0,-1L0.8,0L0,1Z", "size": 30, "filled": false, "stroke": "#0000ff", "strokeWidth": 1.2, "opacity": 1, "clip": true},
   "encoding": {
    "x": {"field": "x", "type": "quantitative", "axis": {"orient": "top", "values": [0,20,40,60,80,100,120,140,160], "labels": false, "title": null}},
    "y": {"field": "y", "type": "quantitative", "axis": {"orient": "right", "values": [0,0.01,0.02,0.03,0.04,0.05,0.06,0.07,0.08,0.09,0.1], "labels": false, "title": null}}}}
 ]},
{"width": 347, "height": 274, "data": {"name": "p31"},
 "title": {"text": "SONAR", "fontSize": 18, "fontWeight": "bold", "fontStyle": "italic", "anchor": "start", "frame": "bounds", "offset": 6},
 "resolve": {"axis": {"x": "independent", "y": "independent"}},
 "layer": [
  {"mark": {"type": "line", "clip": true, "color": "black", "strokeCap": "butt"},
   "encoding": {
    "x": {"field": "x", "type": "quantitative", "scale": {"domain": [0, 325], "nice": false, "zero": false}, "axis": {"values": [0,50,100,150,200,250,300], "title": "level"}},
    "y": {"field": "y", "type": "quantitative", "scale": {"domain": [0, 0.25], "nice": false, "zero": false}, "axis": {"values": [0,0.05,0.1,0.15,0.2,0.25], "format": "~g", "title": "error %"}},
    "strokeDash": {"field": "s", "type": "nominal", "scale": {"domain": ["EB","LSE","TSE"], "range": [[1.5,12.5],[1,0],[1,0]]}, "legend": null},
    "strokeWidth": {"condition": {"test": "datum.s == 'EB'", "value": 1.6}, "value": 1}}},
  {"transform": [{"filter": "datum.d == 1"}],
   "mark": {"type": "point", "shape": "M-0.8,0L0,-1L0.8,0L0,1Z", "size": 30, "filled": false, "stroke": "#0000ff", "strokeWidth": 1.2, "opacity": 1, "clip": true},
   "encoding": {
    "x": {"field": "x", "type": "quantitative", "axis": {"orient": "top", "values": [0,50,100,150,200,250,300], "labels": false, "title": null}},
    "y": {"field": "y", "type": "quantitative", "axis": {"orient": "right", "values": [0,0.05,0.1,0.15,0.2,0.25], "labels": false, "title": null}}}}
 ]},
{"width": 347, "height": 274, "data": {"name": "p32"},
 "resolve": {"axis": {"x": "independent", "y": "independent"}},
 "layer": [
  {"mark": {"type": "line", "clip": true, "color": "black", "strokeCap": "butt"},
   "encoding": {
    "x": {"field": "x", "type": "quantitative", "scale": {"domain": [0, 693], "nice": false, "zero": false}, "axis": {"values": [0,100,200,300,400,500,600], "title": "level"}},
    "y": {"field": "y", "type": "quantitative", "scale": {"domain": [0, 0.25], "nice": false, "zero": false}, "axis": {"values": [0,0.05,0.1,0.15,0.2,0.25], "format": "~g", "title": null}},
    "strokeDash": {"field": "s", "type": "nominal", "scale": {"domain": ["EB","LSE","TSE"], "range": [[1.5,12.5],[1,0],[1,0]]}, "legend": null},
    "strokeWidth": {"condition": {"test": "datum.s == 'EB'", "value": 1.6}, "value": 1}}},
  {"transform": [{"filter": "datum.d == 1"}],
   "mark": {"type": "point", "shape": "M-0.8,0L0,-1L0.8,0L0,1Z", "size": 30, "filled": false, "stroke": "#0000ff", "strokeWidth": 1.2, "opacity": 1, "clip": true},
   "encoding": {
    "x": {"field": "x", "type": "quantitative", "axis": {"orient": "top", "values": [0,100,200,300,400,500,600], "labels": false, "title": null}},
    "y": {"field": "y", "type": "quantitative", "axis": {"orient": "right", "values": [0,0.05,0.1,0.15,0.2,0.25], "labels": false, "title": null}}}}
 ]},
{"width": 347, "height": 274, "data": {"name": "p33"},
 "resolve": {"axis": {"x": "independent", "y": "independent"}},
 "layer": [
  {"mark": {"type": "line", "clip": true, "color": "black", "strokeCap": "butt"},
   "encoding": {
    "x": {"field": "x", "type": "quantitative", "scale": {"domain": [0, 288], "nice": false, "zero": false}, "axis": {"values": [0,50,100,150,200,250], "title": "level"}},
    "y": {"field": "y", "type": "quantitative", "scale": {"domain": [0, 0.25], "nice": false, "zero": false}, "axis": {"values": [0,0.05,0.1,0.15,0.2,0.25], "format": "~g", "title": null}},
    "strokeDash": {"field": "s", "type": "nominal", "scale": {"domain": ["EB","LSE","TSE"], "range": [[1.5,12.5],[1,0],[1,0]]}, "legend": null},
    "strokeWidth": {"condition": {"test": "datum.s == 'EB'", "value": 1.6}, "value": 1}}},
  {"transform": [{"filter": "datum.d == 1"}],
   "mark": {"type": "point", "shape": "M-0.8,0L0,-1L0.8,0L0,1Z", "size": 30, "filled": false, "stroke": "#0000ff", "strokeWidth": 1.2, "opacity": 1, "clip": true},
   "encoding": {
    "x": {"field": "x", "type": "quantitative", "axis": {"orient": "top", "values": [0,50,100,150,200,250], "labels": false, "title": null}},
    "y": {"field": "y", "type": "quantitative", "axis": {"orient": "right", "values": [0,0.05,0.1,0.15,0.2,0.25], "labels": false, "title": null}}}}
 ]}
],
"config": {
 "font": "Liberation Sans",
 "view": {"stroke": "black", "strokeWidth": 1.2},
 "axis": {"grid": false, "domain": false, "ticks": true, "tickSize": -5, "tickColor": "black", "tickWidth": 1, "labelFontSize": 8, "labelColor": "#333333", "labelFont": "Liberation Sans", "labelFlush": false, "labelOverlap": false, "titleFont": "Liberation Sans", "titleFontSize": 18, "titleFontWeight": "normal", "titleColor": "black"},
 "axisX": {"labelPadding": 9, "titlePadding": 4},
 "axisY": {"labelPadding": 8, "titlePadding": 6},
 "title": {"color": "black", "font": "Liberation Sans"}
}
}
